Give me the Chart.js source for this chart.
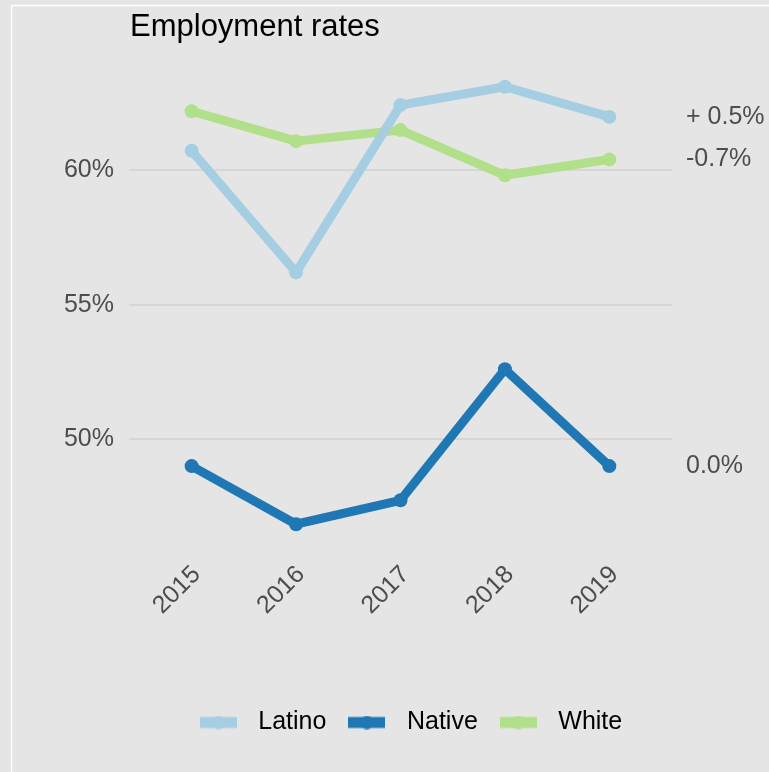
<!DOCTYPE html>
<html lang="en">
<head>
<meta charset="UTF-8">
<title>Employment rates</title>
<style>
html, body { margin: 0; padding: 0; background: #e5e5e5; }
#wrap { width: 769px; height: 772px; }
</style>
</head>
<body>
<div id="wrap"><canvas id="rates" width="769" height="772"></canvas></div>
<script src="https://cdn.jsdelivr.net/npm/chart.js@4.4.1/dist/chart.umd.min.js"></script>
<script>
const years = ['2015', '2016', '2017', '2018', '2019'];
const latino = [60.72, 56.20, 62.42, 63.10, 61.98];
const native = [49.00, 46.84, 47.73, 52.60, 49.00];
const white = [62.19, 61.08, 61.49, 59.81, 60.40];
// change labels printed at the right end of each line
const changes = ['+ 0.5%', '0.0%', '-0.7%'];
const yTicks = [50, 55, 60];

const groups = ['Latino', 'Native', 'White'];
const colors = ['#a6cee3', '#1f78b4', '#b2df8a'];
const values = [latino, native, white];

const FONT = "'Liberation Sans', Arial, sans-serif";
const grey = '#4d4d4d';

// legend key: thick line with a dot in the middle
function keyIcon(color) {
  const c = document.createElement('canvas');
  c.width = 37; c.height = 14;
  const g = c.getContext('2d');
  g.fillStyle = color;
  g.fillRect(0, 1.5, 37, 11);
  g.beginPath();
  g.arc(18.5, 7, 6.8, 0, Math.PI * 2);
  g.fill();
  return c;
}
const icons = colors.map(keyIcon);

const panelBg = {
  id: 'panelBg',
  beforeDraw(chart) {
    const ctx = chart.ctx;
    ctx.save();
    ctx.fillStyle = '#e5e5e5';
    ctx.fillRect(0, 0, chart.width, chart.height);
    ctx.strokeStyle = '#ffffff';
    ctx.lineWidth = 1.5;
    ctx.beginPath();
    ctx.moveTo(11.5, chart.height);
    ctx.lineTo(11.5, 5.5);
    ctx.lineTo(chart.width, 5.5);
    ctx.stroke();
    ctx.restore();
  }
};

const headline = {
  id: 'headline',
  afterDraw(chart) {
    const ctx = chart.ctx;
    ctx.save();
    ctx.font = '31px ' + FONT;
    ctx.fillStyle = '#000000';
    ctx.textAlign = 'left';
    ctx.textBaseline = 'middle';
    ctx.fillText('Employment rates', 130, 27);
    ctx.restore();
  }
};

const endLabels = {
  id: 'endLabels',
  afterDatasetsDraw(chart) {
    const ctx = chart.ctx;
    const y = chart.scales.y;
    ctx.save();
    ctx.font = '25px ' + FONT;
    ctx.fillStyle = grey;
    ctx.textAlign = 'left';
    ctx.textBaseline = 'middle';
    values.forEach((arr, i) => {
      ctx.fillText(changes[i], 686, y.getPixelForValue(arr[arr.length - 1]));
    });
    ctx.restore();
  }
};

// centre the legend under the plotting area
const legendUnderPanel = {
  id: 'legendUnderPanel',
  afterLayout(chart) {
    const lg = chart.legend;
    lg.left = chart.chartArea.left + 6;
    lg.right = chart.chartArea.right + 6;
  }
};

new Chart(document.getElementById('rates'), {
  type: 'line',
  data: {
    datasets: groups.map((name, i) => ({
      label: name,
      data: values[i].map((v, j) => ({ x: j, y: v })),
      borderColor: colors[i],
      backgroundColor: colors[i],
      borderWidth: 9,
      borderCapStyle: 'round',
      borderJoinStyle: 'round',
      pointRadius: 7,
      pointBorderWidth: 0,
      pointBackgroundColor: colors[i],
      tension: 0,
      fill: false
    }))
  },
  options: {
    responsive: false,
    devicePixelRatio: 1,
    animation: false,
    layout: { padding: { top: 65, right: 97, left: 0, bottom: 27 } },
    scales: {
      x: {
        type: 'linear',
        min: -0.6,
        max: 4.6,
        afterBuildTicks(scale) { scale.ticks = years.map((_, i) => ({ value: i })); },
        afterFit(scale) { scale.height = 151; },
        grid: { display: false, drawTicks: false },
        border: { display: false },
        ticks: {
          autoSkip: false,
          minRotation: 45,
          maxRotation: 45,
          padding: 14,
          labelOffset: 5,
          color: grey,
          font: { family: FONT, size: 25 },
          callback: v => years[v]
        }
      },
      y: {
        min: 46.03,
        max: 63.91,
        afterBuildTicks(scale) { scale.ticks = yTicks.map(v => ({ value: v })); },
        afterFit(scale) { scale.width = 129; },
        grid: { color: '#d6d6d6', lineWidth: 2, drawTicks: false },
        border: { display: false },
        ticks: {
          padding: 15,
          color: grey,
          font: { family: FONT, size: 25 },
          callback: v => v + '%'
        }
      }
    },
    plugins: {
      title: { display: false },
      tooltip: { enabled: false },
      legend: {
        position: 'bottom',
        labels: {
          usePointStyle: true,
          pointStyleWidth: 55,
          padding: 13,
          color: '#000000',
          font: { family: FONT, size: 25 },
          generateLabels(chart) {
            return Chart.defaults.plugins.legend.labels.generateLabels(chart).map((item, i) => {
              item.pointStyle = icons[i];
              return item;
            });
          }
        }
      }
    }
  },
  plugins: [panelBg, headline, endLabels, legendUnderPanel]
});
</script>
</body>
</html>
